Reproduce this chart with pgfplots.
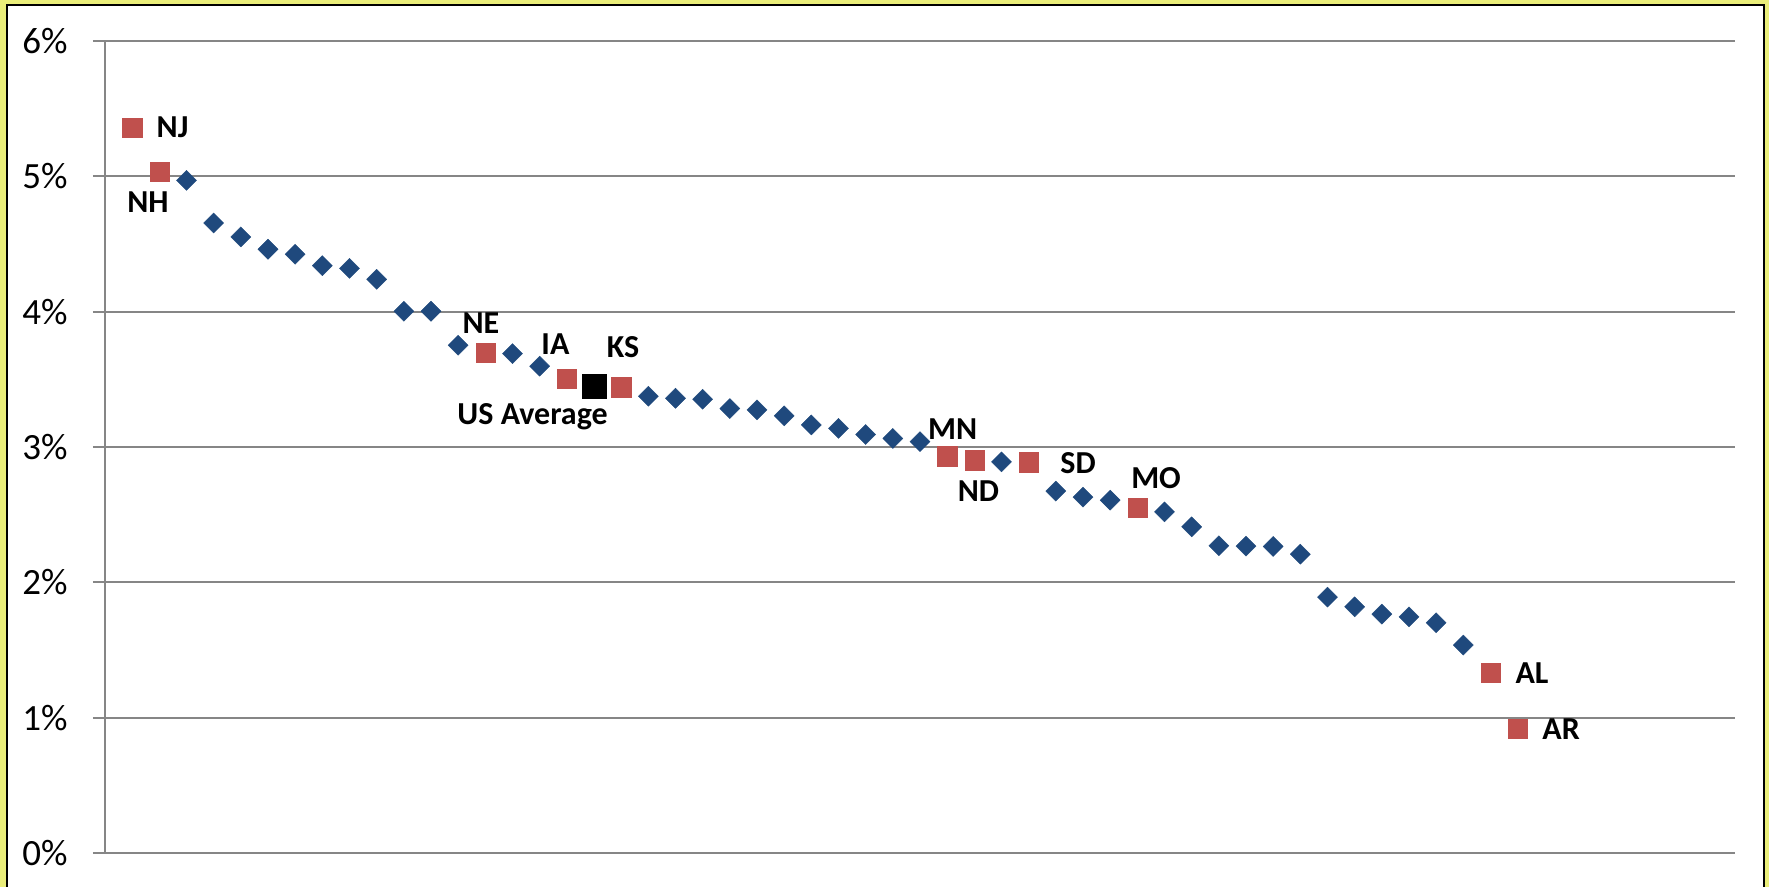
\documentclass[border=0pt]{standalone}
\usepackage{fontspec}
\setmainfont{Carlito}
\usepackage{pgfplots}
\pgfplotsset{compat=1.18}

\definecolor{framebg}{RGB}{234,238,122}
\definecolor{gridgray}{RGB}{134,134,134}
\definecolor{stateblue}{RGB}{31,73,125}
\definecolor{statered}{RGB}{192,80,77}

\begin{document}
\begin{tikzpicture}
  % page area and the chart frame
  \useasboundingbox (0,0) rectangle (884.5pt,443.5pt);
  \fill[framebg] (0,0) rectangle (884.5pt,443.5pt);
  \draw[black, line width=1pt, fill=white] (3.5pt,-20pt) rectangle (882pt,441pt);

  \begin{axis}[
    at={(52.5pt,17pt)}, anchor=south west,
    scale only axis, width=815pt, height=406pt,
    xmin=0, xmax=60, ymin=0, ymax=6,
    axis x line=none,
    axis y line*=left,
    y axis line style={-, draw=gridgray, line width=1pt},
    xtick=\empty,
    ytick={0,1,2,3,4,5,6},
    yticklabels={0\%,1\%,2\%,3\%,4\%,5\%,6\%},
    tick align=outside,
    major tick length=6pt,
    tick style={draw=gridgray, line width=1pt},
    ymajorgrids,
    grid style={draw=gridgray, line width=1pt},
    yticklabel style={font=\fontsize{18.5}{18.5}\selectfont, anchor=east, inner sep=0pt, xshift=-12.5pt},
    clip=false,
  ]
    % states without a label
    \addplot[only marks, mark=square*, mark size=3.54pt,
      mark options={rotate=45, fill=stateblue, draw=stateblue, line width=0.2pt}]
      coordinates {
        (3,4.970) (4,4.655) (5,4.552) (6,4.461) (7,4.424) (8,4.340) (9,4.320)
        (10,4.239) (11,4.003) (12,4.003) (13,3.752) (15,3.690) (16,3.597)
        (20,3.375) (21,3.360) (22,3.353) (23,3.284) (24,3.274) (25,3.230)
        (26,3.163) (27,3.137) (28,3.092) (29,3.063) (30,3.040) (33,2.890)
        (35,2.674) (36,2.629) (37,2.607) (39,2.521) (40,2.410) (41,2.270)
        (42,2.268) (43,2.265) (44,2.208) (45,1.891) (46,1.819) (47,1.765)
        (48,1.745) (49,1.701) (50,1.536)
      };
    % labelled states
    \addplot[only marks, mark=square*, mark size=4.8pt,
      mark options={fill=statered, draw=statered, line width=0.2pt}]
      coordinates {
        (1,5.357) (2,5.035) (14,3.698) (17,3.506) (19,3.442) (31,2.932)
        (32,2.902) (34,2.888) (38,2.553) (51,1.334) (52,0.916)
      };
    % national average
    \addplot[only marks, mark=square*, mark size=6pt,
      mark options={fill=black, draw=black, line width=0.2pt}]
      coordinates {(18,3.451)};

    \begin{scope}[every node/.style={font=\bfseries\fontsize{16}{16}\selectfont, anchor=base, inner sep=0pt}]
      \node at (axis cs:2.485,5.290) {NJ};
      \node at (axis cs:1.583,4.729) {NH};
      \node at (axis cs:13.84,3.842) {NE};
      \node at (axis cs:16.58,3.686) {IA};
      \node at (axis cs:15.74,3.163) {US Average};
      \node at (axis cs:19.07,3.658) {KS};
      \node at (axis cs:31.20,3.052) {MN};
      \node at (axis cs:32.15,2.594) {ND};
      \node at (axis cs:35.82,2.801) {SD};
      \node at (axis cs:38.69,2.690) {MO};
      \node at (axis cs:52.53,1.249) {AL};
      \node at (axis cs:53.60,0.835) {AR};
    \end{scope}
  \end{axis}
\end{tikzpicture}
\end{document}
